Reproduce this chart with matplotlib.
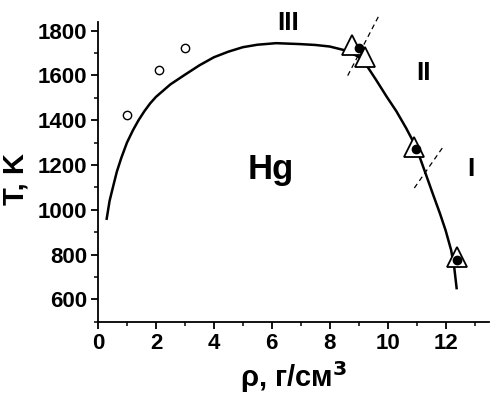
import matplotlib
matplotlib.use("Agg")
import matplotlib.pyplot as plt

plt.rcParams['font.family'] = ['Liberation Sans', 'DejaVu Sans']
plt.rcParams['font.weight'] = 'bold'

# binodal curve
curve_rho = [0.3, 0.4, 0.52, 0.65, 0.8, 1.0, 1.21, 1.4, 1.6, 1.8, 2.0, 2.5, 3.0, 3.5, 4.0, 4.5, 5.0, 5.5,
             6.15, 6.95, 7.5, 8.0, 8.56, 9.0, 9.26, 9.6, 9.97, 10.3, 10.64, 10.9, 11.1, 11.3, 11.55,
             11.8, 12.0, 12.19, 12.3, 12.38]
curve_T = [960, 1040, 1103, 1170, 1230, 1300, 1356, 1400, 1440, 1475, 1504, 1560, 1603, 1645, 1681, 1706,
           1726, 1737, 1744, 1740, 1736, 1729, 1711, 1683, 1647, 1580, 1504, 1440, 1364, 1300, 1237,
           1165, 1074, 985, 908, 820, 740, 650]

# open circles
open_rho = [1.0, 2.1, 3.0]
open_T = [1424, 1623, 1721]

# filled circles
fill_rho = [9.0, 10.98, 12.39]
fill_T = [1721, 1272, 776]

# triangles
tri_rho = [8.77, 9.23, 10.9, 12.39]
tri_T = [1736, 1684, 1282, 788]

# dashed boundaries
dash1_rho = [8.62, 9.71]
dash1_T = [1599, 1870]
dash2_rho = [10.92, 11.92]
dash2_T = [1097, 1282]

fig = plt.figure(figsize=(4.95, 3.94), dpi=100)
ax = fig.add_axes([0.198, 0.1835, 0.79, 0.7615])

ax.plot(curve_rho, curve_T, color='black', lw=1.8, zorder=2)
ax.plot(dash1_rho, dash1_T, color='black', lw=0.9, ls=(0, (4, 3)), zorder=2, clip_on=False)
ax.plot(dash2_rho, dash2_T, color='black', lw=0.9, ls=(0, (4, 3)), zorder=2)
ax.plot(tri_rho, tri_T, ls='none', marker='^', ms=15, mfc='white', mec='black', mew=1.3, zorder=3)
ax.plot(fill_rho, fill_T, ls='none', marker='o', ms=6, mfc='black', mec='black', zorder=4)
ax.plot(open_rho, open_T, ls='none', marker='o', ms=6, mfc='white', mec='black', mew=1.0, zorder=4)

ax.text(6.58, 1836, 'III', fontsize=19, fontweight='bold', ha='center', va='center')
ax.text(11.23, 1611, 'II', fontsize=19, fontweight='bold', ha='center', va='center')
ax.text(12.88, 1183, 'I', fontsize=19, fontweight='bold', ha='center', va='center')
ax.text(5.98, 1178, 'Hg', fontsize=25, fontweight='bold', ha='center', va='center')

ax.set_xlim(0, 13.5)
ax.set_ylim(500, 1840)
ax.set_xticks([0, 2, 4, 6, 8, 10, 12])
ax.set_xticks([1, 3, 5, 7, 9, 11, 13], minor=True)
ax.set_yticks([600, 800, 1000, 1200, 1400, 1600, 1800])
ax.set_yticks([500, 700, 900, 1100, 1300, 1500, 1700], minor=True)
ax.spines['top'].set_visible(False)
ax.spines['right'].set_visible(False)
for s in ['left', 'bottom']:
    ax.spines[s].set_linewidth(1.3)
ax.tick_params(which='major', direction='out', length=5, width=1.3, labelsize=16, pad=3)
ax.tick_params(which='minor', direction='out', length=3, width=1.1)
for lab in ax.get_xticklabels() + ax.get_yticklabels():
    lab.set_fontweight('bold')

ax.set_xlabel('ρ, г/см$^\\mathbf{3}$', fontsize=21, fontweight='bold')
ax.xaxis.set_label_coords(0.5, -0.125)
fig.text(15 / 495, 1 - 179 / 394, 'T, K', fontsize=21, fontweight='bold',
         rotation=90, ha='center', va='center')

fig.savefig('out.png', dpi=100)
